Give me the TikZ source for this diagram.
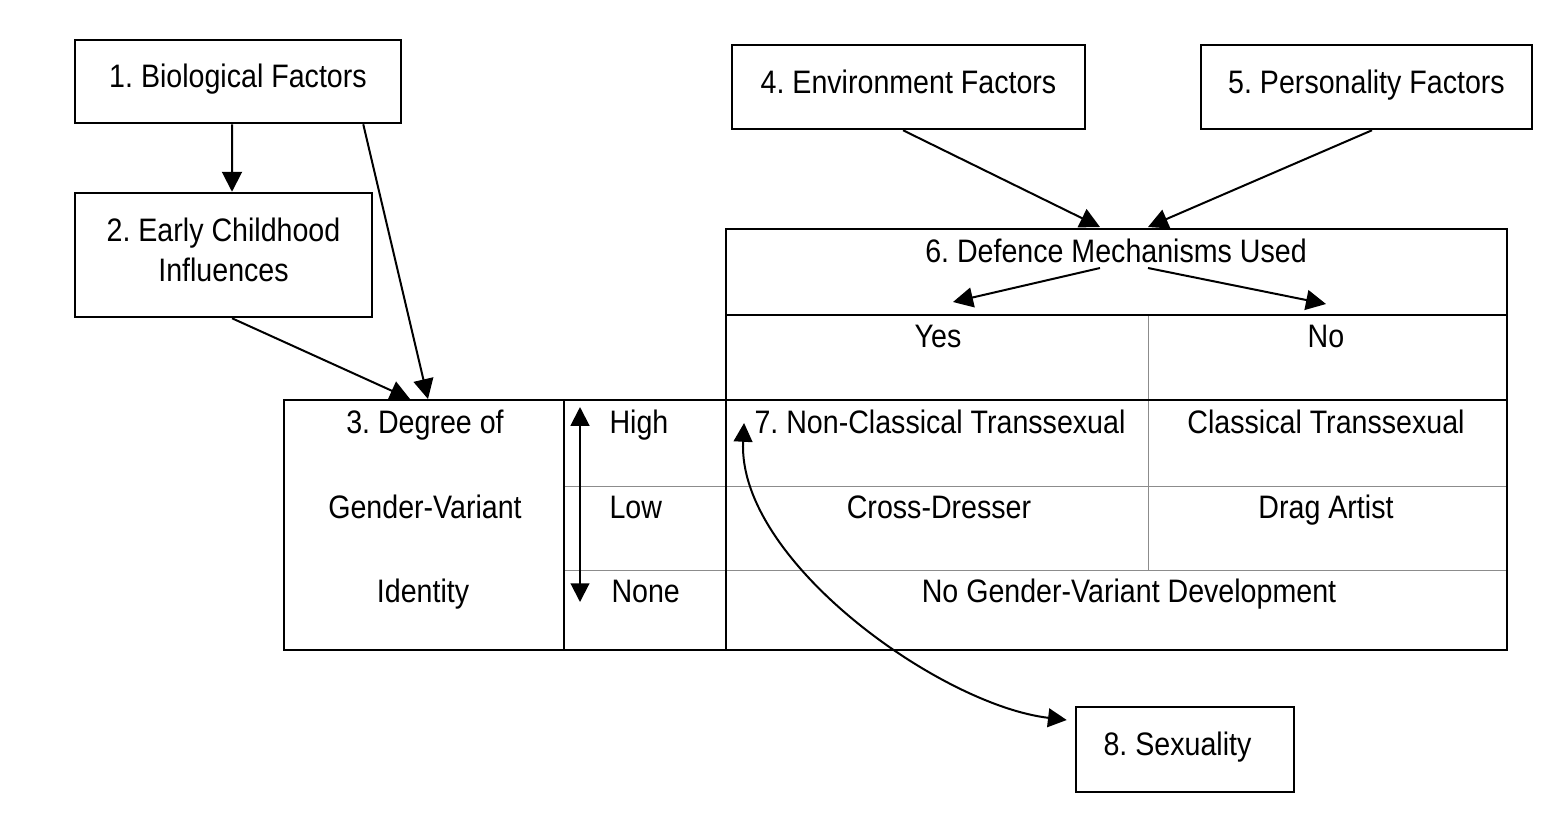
\documentclass[tikz,border=0pt]{standalone}
\usepackage{fontspec}
\setmainfont{Liberation Sans}[FakeStretch=0.88]
\usetikzlibrary{arrows.meta}
\frenchspacing
\tikzset{
	box/.style={draw, line width=1pt, align=center, text depth=4.5pt},
	cell/.style={inner sep=0pt, anchor=base},
	arr/.style={line width=0.8pt, -{Triangle[length=8pt,width=8pt]}},
	dblarr/.style={line width=0.8pt, {Triangle[length=7.5pt,width=7.5pt]}-{Triangle[length=7.5pt,width=7.5pt]}},
	tabline/.style={line width=1pt},
	thinline/.style={line width=0.4pt, black!45}
}
\begin{document}
\begin{tikzpicture}[x=0.4pt, y=-0.4pt, font=\fontsize{13pt}{16pt}\selectfont]
			\useasboundingbox (0,0) rectangle (1554,816);
			
			\node[box, minimum width=130.4pt, minimum height=33.2pt] (bio) at (238,81.5) {1. Biological Factors};
			\node[box, minimum width=118.8pt, minimum height=49.6pt] (early) at (223.5,255) {2. Early Childhood\\Influences};
			\node[box, minimum width=141.2pt, minimum height=33.6pt] (env) at (908.5,87) {4. Environment Factors};
			\node[box, minimum width=132.4pt, minimum height=33.6pt] (pers) at (1366.5,87) {5. Personality Factors};
			\node[box, minimum width=87.2pt, minimum height=34pt] (sex) at (1185,749.5) {8. Sexuality\hspace{6pt}};
			
			% table
			\draw[thinline] (1148,315) -- (1148,570);
			\draw[thinline] (564,486) -- (1507,486);
			\draw[thinline] (564,570) -- (1507,570);
			\draw[tabline] (726,229) rectangle (1507,400);
			\draw[tabline] (726,315) -- (1507,315);
			\draw[tabline] (284,400) rectangle (1507,650);
			\draw[tabline] (564,400) -- (564,650);
			\draw[tabline] (726,400) -- (726,650);
			
			\node[cell] (dmu) at (1116,262) {6. Defence Mechanisms Used};
			\node[cell] (yes) at (938,347) {Yes};
			\node[cell] (no) at (1326,347) {No};
			\node[cell] (deg) at (425,433) {3. Degree of};
			\node[cell] (gv) at (425,518) {Gender-Variant};
			\node[cell] (ident) at (423,602) {Identity};
			\node[cell, anchor=base west] (high) at (609,433) {High};
			\node[cell, anchor=base west] (low) at (609,518) {Low};
			\node[cell, anchor=base west] (none) at (611,602) {None};
			\node[cell] (nct) at (940,433) {7. Non-Classical Transsexual};
			\node[cell] (ct) at (1326,433) {Classical Transsexual};
			\node[cell] (cd) at (939,518) {Cross-Dresser};
			\node[cell] (drag) at (1326,518) {Drag Artist};
			\node[cell] (nogv) at (1129,602) {No Gender-Variant Development};
			
			\coordinate (in3) at (419,399);
			\coordinate (in6) at (1124,227);
			
			\draw[arr] ([xshift=-2.4pt]bio.south) -- ([xshift=3.4pt]early.north);
			\draw[arr] ([xshift=-15.6pt]bio.south east) -- ([xshift=3.6pt]in3);
			\draw[arr] ([xshift=3.4pt]early.south) -- ([xshift=-3.6pt]in3);
			\draw[arr] ([xshift=-2.2pt]env.south) -- ([xshift=-9.6pt]in6);
			\draw[arr] ([xshift=2.2pt]pers.south) -- ([xshift=9.6pt]in6);
			\draw[arr] ([xshift=-6.4pt,yshift=-2.4pt]dmu.base) -- ([xshift=6pt,yshift=18pt]yes.base);
			\draw[arr] ([xshift=12.8pt,yshift=-2.4pt]dmu.base) -- ([yshift=17.2pt]no.base);
			\draw[dblarr] ([xshift=-11.6pt,yshift=10.4pt]high.base west) -- ([xshift=-12.4pt]none.base west);
			\draw[dblarr] ([xshift=-4pt,yshift=4pt]nct.base west) .. controls (737,560) and (940,705) .. ([xshift=-3.2pt,yshift=11.8pt]sex.west);
		\end{tikzpicture}
\end{document}
